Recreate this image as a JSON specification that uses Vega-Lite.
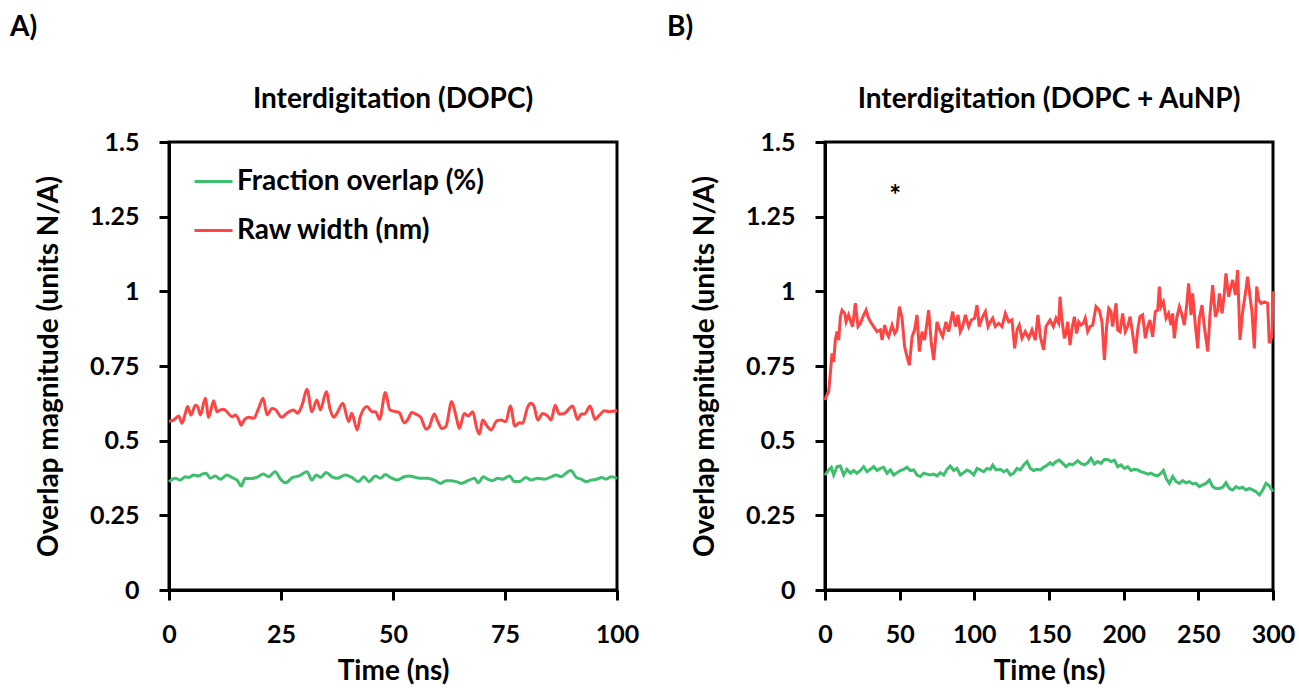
{
  "$schema": "https://vega.github.io/schema/vega-lite/v6.json",
  "background": "white",
  "padding": {"left": 10, "top": 13, "right": 5, "bottom": 5},
  "config": {
    "font": "Lato",
    "view": {"stroke": "black", "strokeWidth": 3},
    "axis": {"grid": false, "domainColor": "black", "domainWidth": 3,
      "labelFont": "Lato", "labelFontSize": 25, "labelFontWeight": "bold", "labelColor": "black", "labelFlush": false,
      "labelExpr": "'' + datum.value",
      "titleFont": "Lato", "titleFontSize": 28, "titleFontWeight": "bold", "titleColor": "black"},
    "axisY": {"titlePadding": 26, "labelPadding": 20},
    "axisX": {"titlePadding": 10, "labelPadding": 22},
    "title": {"font": "Lato", "fontSize": 28, "fontWeight": "bold", "color": "black"}
  },
  "datasets": {
    "a_red": [
      {"t":0,"v":0.565},{"t":1.04,"v":0.569},{"t":2.16,"v":0.583},{"t":2.9,"v":0.558},{"t":3.65,"v":0.592},{"t":4.17,"v":0.614},{"t":4.91,"v":0.586},{"t":5.88,"v":0.619},{"t":6.4,"v":0.614},{"t":7.0,"v":0.586},{"t":8.1,"v":0.642},{"t":8.85,"v":0.578},{"t":9.97,"v":0.634},{"t":10.7,"v":0.597},{"t":11.5,"v":0.603},{"t":12.2,"v":0.605},{"t":12.9,"v":0.597},{"t":14.1,"v":0.58},{"t":14.8,"v":0.586},{"t":15.55,"v":0.571},{"t":16.1,"v":0.552},{"t":16.8,"v":0.569},{"t":17.8,"v":0.578},{"t":18.9,"v":0.575},{"t":20.0,"v":0.608},{"t":21.0,"v":0.642},{"t":21.9,"v":0.586},{"t":23.0,"v":0.608},{"t":23.7,"v":0.605},{"t":25.2,"v":0.578},{"t":26.3,"v":0.592},{"t":27.8,"v":0.603},{"t":28.7,"v":0.592},{"t":29.7,"v":0.619},{"t":30.8,"v":0.672},{"t":31.9,"v":0.597},{"t":33.0,"v":0.636},{"t":33.8,"v":0.603},{"t":35.1,"v":0.664},{"t":36.0,"v":0.603},{"t":36.8,"v":0.578},{"t":37.5,"v":0.592},{"t":38.8,"v":0.625},{"t":40.1,"v":0.564},{"t":40.8,"v":0.592},{"t":42.0,"v":0.536},{"t":42.7,"v":0.58},{"t":44.2,"v":0.614},{"t":45.3,"v":0.597},{"t":46.1,"v":0.597},{"t":47.0,"v":0.571},{"t":48.3,"v":0.661},{"t":49.3,"v":0.603},
      {"t":50.7,"v":0.597},{"t":51.4,"v":0.594},{"t":52.5,"v":0.56},{"t":53.3,"v":0.571},{"t":54.2,"v":0.594},{"t":55.1,"v":0.589},{"t":56.2,"v":0.578},{"t":57.4,"v":0.538},{"t":58.1,"v":0.547},{"t":59.2,"v":0.589},{"t":60.0,"v":0.564},{"t":60.9,"v":0.541},{"t":61.8,"v":0.547},{"t":63.1,"v":0.631},{"t":64.1,"v":0.58},{"t":64.8,"v":0.541},{"t":65.9,"v":0.591},{"t":66.8,"v":0.583},{"t":67.8,"v":0.597},{"t":68.7,"v":0.541},{"t":69.3,"v":0.522},{"t":70.0,"v":0.569},{"t":71.1,"v":0.547},{"t":71.9,"v":0.536},{"t":73.2,"v":0.567},{"t":74.1,"v":0.569},{"t":75.2,"v":0.564},{"t":76.2,"v":0.616},{"t":77.2,"v":0.549},{"t":78.2,"v":0.56},{"t":78.9,"v":0.558},{"t":80.1,"v":0.614},{"t":80.8,"v":0.625},{"t":81.5,"v":0.614},{"t":82.3,"v":0.569},{"t":83.4,"v":0.591},{"t":84.5,"v":0.583},{"t":85.3,"v":0.569},{"t":86.2,"v":0.619},{"t":87.1,"v":0.589},{"t":88.2,"v":0.591},{"t":90.1,"v":0.616},{"t":91.2,"v":0.571},{"t":92.0,"v":0.589},{"t":92.7,"v":0.589},{"t":94.0,"v":0.616},{"t":95.1,"v":0.571},{"t":96.1,"v":0.586},{"t":97.2,"v":0.6},{"t":98.3,"v":0.597},{"t":99.8,"v":0.6},{"t":100,"v":0.6}
    ],
    "a_green": [
      {"t":0,"v":0.362},{"t":1.4,"v":0.374},{"t":2.5,"v":0.368},{"t":3.65,"v":0.379},{"t":4.4,"v":0.377},{"t":5.5,"v":0.385},{"t":6.6,"v":0.382},{"t":7.4,"v":0.388},{"t":8.3,"v":0.391},{"t":9.2,"v":0.374},{"t":10.3,"v":0.382},{"t":11.5,"v":0.371},{"t":12.9,"v":0.385},{"t":14.1,"v":0.376},{"t":15.2,"v":0.368},{"t":16.1,"v":0.348},{"t":17.0,"v":0.374},{"t":18.2,"v":0.373},{"t":19.6,"v":0.377},{"t":21.1,"v":0.388},{"t":22.2,"v":0.379},{"t":23.7,"v":0.396},{"t":24.9,"v":0.371},{"t":26.0,"v":0.359},{"t":27.5,"v":0.376},{"t":29.0,"v":0.382},{"t":30.8,"v":0.396},{"t":31.9,"v":0.368},{"t":32.9,"v":0.385},{"t":33.8,"v":0.377},{"t":35.1,"v":0.393},{"t":36.4,"v":0.379},{"t":37.5,"v":0.374},{"t":39.4,"v":0.385},{"t":40.8,"v":0.377},{"t":42.3,"v":0.363},{"t":43.5,"v":0.379},{"t":44.6,"v":0.363},{"t":46.1,"v":0.382},{"t":47.2,"v":0.374},{"t":48.3,"v":0.387},{"t":49.4,"v":0.377},
      {"t":51.0,"v":0.368},{"t":52.5,"v":0.379},{"t":53.6,"v":0.382},{"t":55.1,"v":0.377},{"t":56.2,"v":0.374},{"t":57.7,"v":0.374},{"t":59.2,"v":0.368},{"t":60.6,"v":0.357},{"t":61.8,"v":0.366},{"t":62.9,"v":0.366},{"t":64.1,"v":0.363},{"t":65.2,"v":0.357},{"t":66.7,"v":0.366},{"t":68.2,"v":0.374},{"t":69.0,"v":0.359},{"t":70.2,"v":0.379},{"t":71.1,"v":0.371},{"t":72.2,"v":0.366},{"t":73.4,"v":0.374},{"t":74.5,"v":0.371},{"t":76.0,"v":0.382},{"t":77.1,"v":0.363},{"t":78.2,"v":0.363},{"t":79.7,"v":0.377},{"t":80.8,"v":0.368},{"t":82.3,"v":0.374},{"t":83.8,"v":0.371},{"t":85.3,"v":0.379},{"t":86.4,"v":0.385},{"t":87.5,"v":0.379},{"t":88.6,"v":0.391},{"t":89.7,"v":0.4},{"t":90.9,"v":0.377},{"t":92.0,"v":0.371},{"t":93.1,"v":0.363},{"t":94.2,"v":0.368},{"t":95.5,"v":0.371},{"t":96.6,"v":0.377},{"t":97.5,"v":0.371},{"t":98.7,"v":0.379},{"t":100,"v":0.374}
    ],
    "b_red": [
      {"t":0,"v":0.636},{"t":1,"v":0.65},{"t":2.46,"v":0.664},{"t":3.57,"v":0.725},{"t":4.69,"v":0.792},{"t":5.8,"v":0.764},{"t":6.92,"v":0.837},{"t":8.03,"v":0.865},{"t":9.15,"v":0.837},{"t":10.3,"v":0.915},{"t":11.4,"v":0.937},{"t":13.2,"v":0.926},{"t":14.1,"v":0.898},{"t":15.8,"v":0.921},{"t":17.6,"v":0.893},{"t":18.5,"v":0.882},{"t":20.3,"v":0.96},{"t":22.1,"v":0.882},{"t":23.7,"v":0.893},{"t":25.9,"v":0.921},{"t":27.5,"v":0.937},{"t":28.8,"v":0.915},{"t":30.4,"v":0.898},{"t":32.6,"v":0.882},{"t":34.8,"v":0.865},{"t":37.1,"v":0.871},{"t":38.2,"v":0.837},{"t":40.0,"v":0.887},{"t":41.5,"v":0.859},{"t":42.6,"v":0.848},{"t":44.9,"v":0.887},{"t":46.7,"v":0.859},{"t":48.2,"v":0.871},{"t":49.8,"v":0.949},{"t":51.6,"v":0.91},{"t":53.3,"v":0.815},{"t":54.9,"v":0.781},{"t":56.5,"v":0.753},{"t":58.3,"v":0.848},{"t":60.0,"v":0.871},{"t":61.6,"v":0.921},{"t":63.2,"v":0.798},{"t":65.0,"v":0.865},{"t":66.7,"v":0.837},{"t":69.4,"v":0.937},{"t":71.2,"v":0.826},{"t":72.8,"v":0.77},{"t":75.0,"v":0.898},{"t":77.2,"v":0.865},{"t":78.8,"v":0.848},{"t":81.0,"v":0.898},{"t":82.8,"v":0.865},{"t":85.5,"v":0.932},{"t":87.3,"v":0.882},{"t":89.1,"v":0.921},{"t":90.6,"v":0.865},{"t":92.2,"v":0.882},{"t":94.0,"v":0.921},{"t":96.2,"v":0.882},{"t":98.0,"v":0.904},{"t":100.2,"v":0.91},{"t":101.8,"v":0.954},{"t":103.3,"v":0.882},{"t":105.1,"v":0.91},{"t":107.4,"v":0.932},{"t":109.2,"v":0.882},{"t":110.7,"v":0.898},{"t":112.3,"v":0.91},{"t":114.1,"v":0.882},{"t":116.3,"v":0.893},{"t":118.5,"v":0.882},{"t":120.8,"v":0.926},{"t":123.0,"v":0.898},{"t":125.2,"v":0.904},{"t":127.0,"v":0.809},{"t":128.6,"v":0.871},{"t":130.1,"v":0.887},{"t":131.9,"v":0.843},{"t":134.1,"v":0.865},{"t":136.4,"v":0.843},{"t":138.6,"v":0.871},{"t":140.8,"v":0.837},{"t":142.6,"v":0.921},{"t":144.2,"v":0.848},{"t":146.4,"v":0.804},{"t":148.0,"v":0.882},{"t":150.7,"v":0.904},
      {"t":152.9,"v":0.882},{"t":154.7,"v":0.91},{"t":156.5,"v":0.893},{"t":157.4,"v":0.982},{"t":158.7,"v":0.904},{"t":160.3,"v":0.843},{"t":161.4,"v":0.859},{"t":162.5,"v":0.898},{"t":164.1,"v":0.82},{"t":165.4,"v":0.876},{"t":167.0,"v":0.915},{"t":168.5,"v":0.859},{"t":169.9,"v":0.898},{"t":171.4,"v":0.887},{"t":173.0,"v":0.893},{"t":174.3,"v":0.91},{"t":175.9,"v":0.865},{"t":177.5,"v":0.882},{"t":179.3,"v":0.887},{"t":181.5,"v":0.949},{"t":183.7,"v":0.937},{"t":185.5,"v":0.898},{"t":187.1,"v":0.77},{"t":188.6,"v":0.882},{"t":190.0,"v":0.943},{"t":191.5,"v":0.932},{"t":192.6,"v":0.882},{"t":194.9,"v":0.96},{"t":196.0,"v":0.871},{"t":197.6,"v":0.865},{"t":199.3,"v":0.926},{"t":201.1,"v":0.865},{"t":202.7,"v":0.882},{"t":204.3,"v":0.915},{"t":206.0,"v":0.859},{"t":207.8,"v":0.792},{"t":209.4,"v":0.871},{"t":210.9,"v":0.915},{"t":212.7,"v":0.921},{"t":214.5,"v":0.843},{"t":216.1,"v":0.882},{"t":217.6,"v":0.904},{"t":219.4,"v":0.848},{"t":221.2,"v":0.932},{"t":222.8,"v":0.937},{"t":223.9,"v":1.016},{"t":225.0,"v":0.949},{"t":226.6,"v":0.965},{"t":228.4,"v":0.91},{"t":230.1,"v":0.926},{"t":231.7,"v":0.887},{"t":232.8,"v":0.926},{"t":233.9,"v":0.843},{"t":235.5,"v":0.91},{"t":237.3,"v":0.949},{"t":239.1,"v":0.921},{"t":240.6,"v":0.887},{"t":242.2,"v":0.954},{"t":243.5,"v":1.027},{"t":245.1,"v":0.921},{"t":246.2,"v":0.993},{"t":248.0,"v":0.887},{"t":249.6,"v":0.809},{"t":250.7,"v":0.91},{"t":252.5,"v":0.954},{"t":254.0,"v":0.882},{"t":256.3,"v":0.798},{"t":257.8,"v":0.921},{"t":259.6,"v":1.021},{"t":261.4,"v":0.915},{"t":263.0,"v":0.937},{"t":264.1,"v":0.993},{"t":265.9,"v":0.926},{"t":267.4,"v":0.993},{"t":268.5,"v":1.06},{"t":270.3,"v":0.982},{"t":271.9,"v":1.016},{"t":273.0,"v":1.038},{"t":274.8,"v":0.988},{"t":276.3,"v":1.071},{"t":277.9,"v":0.837},{"t":279.7,"v":0.932},{"t":281.5,"v":0.993},{"t":283.0,"v":1.049},{"t":284.6,"v":0.982},{"t":285.9,"v":0.932},{"t":287.5,"v":0.809},{"t":289.1,"v":1.016},{"t":290.4,"v":0.971},{"t":292.0,"v":0.96},{"t":294.2,"v":0.965},{"t":296.4,"v":0.96},{"t":297.5,"v":0.826},{"t":299.3,"v":0.848},{"t":300,"v":1.0}
    ],
    "b_green": [
      {"t":0,"v":0.385},{"t":2.46,"v":0.402},{"t":4.24,"v":0.411},{"t":5.8,"v":0.385},{"t":8.03,"v":0.413},{"t":10.3,"v":0.415},{"t":12.5,"v":0.385},{"t":14.7,"v":0.404},{"t":17.0,"v":0.391},{"t":19.2,"v":0.4},{"t":21.4,"v":0.391},{"t":23.7,"v":0.4},{"t":25.9,"v":0.413},{"t":28.1,"v":0.396},{"t":30.4,"v":0.404},{"t":32.6,"v":0.413},{"t":34.8,"v":0.4},{"t":37.1,"v":0.407},{"t":39.3,"v":0.411},{"t":41.5,"v":0.391},{"t":43.8,"v":0.402},{"t":46.0,"v":0.385},{"t":48.2,"v":0.393},{"t":50.4,"v":0.4},{"t":52.7,"v":0.404},{"t":54.9,"v":0.411},{"t":57.1,"v":0.4},{"t":59.4,"v":0.402},{"t":61.6,"v":0.385},{"t":63.8,"v":0.38},{"t":66.1,"v":0.391},{"t":68.3,"v":0.388},{"t":70.5,"v":0.385},{"t":72.8,"v":0.388},{"t":75.0,"v":0.382},{"t":77.2,"v":0.393},{"t":79.5,"v":0.385},{"t":81.7,"v":0.404},{"t":83.9,"v":0.415},{"t":86.2,"v":0.4},{"t":88.4,"v":0.407},{"t":90.6,"v":0.385},{"t":92.9,"v":0.393},{"t":95.1,"v":0.402},{"t":97.3,"v":0.396},{"t":99.6,"v":0.385},{"t":101.8,"v":0.407},{"t":104.0,"v":0.402},{"t":106.2,"v":0.396},{"t":108.5,"v":0.407},{"t":110.7,"v":0.404},{"t":112.3,"v":0.418},{"t":114.5,"v":0.402},{"t":117.4,"v":0.404},{"t":119.6,"v":0.396},{"t":121.9,"v":0.402},{"t":124.1,"v":0.385},{"t":126.3,"v":0.391},{"t":128.6,"v":0.407},{"t":130.8,"v":0.402},{"t":133.0,"v":0.418},{"t":135.3,"v":0.43},{"t":137.5,"v":0.407},{"t":139.7,"v":0.4},{"t":142.0,"v":0.404},{"t":144.2,"v":0.402},{"t":146.4,"v":0.411},{"t":148.7,"v":0.418},{"t":150.7,"v":0.426},
      {"t":152.5,"v":0.419},{"t":154.7,"v":0.43},{"t":156.9,"v":0.435},{"t":159.2,"v":0.424},{"t":161.4,"v":0.413},{"t":163.6,"v":0.422},{"t":165.9,"v":0.419},{"t":169.2,"v":0.433},{"t":171.4,"v":0.424},{"t":173.7,"v":0.419},{"t":175.9,"v":0.426},{"t":178.1,"v":0.441},{"t":180.4,"v":0.422},{"t":182.6,"v":0.43},{"t":184.8,"v":0.424},{"t":187.1,"v":0.437},{"t":189.3,"v":0.437},{"t":191.5,"v":0.43},{"t":193.8,"v":0.435},{"t":196.0,"v":0.413},{"t":198.2,"v":0.419},{"t":200.5,"v":0.407},{"t":202.7,"v":0.413},{"t":204.9,"v":0.4},{"t":207.2,"v":0.404},{"t":209.4,"v":0.402},{"t":211.6,"v":0.396},{"t":213.8,"v":0.393},{"t":216.1,"v":0.388},{"t":218.3,"v":0.391},{"t":220.5,"v":0.385},{"t":222.8,"v":0.382},{"t":225.0,"v":0.391},{"t":226.6,"v":0.4},{"t":228.4,"v":0.374},{"t":230.6,"v":0.357},{"t":232.8,"v":0.38},{"t":235.1,"v":0.363},{"t":237.3,"v":0.357},{"t":239.5,"v":0.366},{"t":241.8,"v":0.359},{"t":244.0,"v":0.363},{"t":246.2,"v":0.355},{"t":248.4,"v":0.357},{"t":250.7,"v":0.346},{"t":252.9,"v":0.352},{"t":255.1,"v":0.357},{"t":257.4,"v":0.368},{"t":259.6,"v":0.346},{"t":261.8,"v":0.34},{"t":264.1,"v":0.34},{"t":266.3,"v":0.344},{"t":268.5,"v":0.359},{"t":270.8,"v":0.34},{"t":273.0,"v":0.335},{"t":275.2,"v":0.346},{"t":277.5,"v":0.34},{"t":279.7,"v":0.344},{"t":281.9,"v":0.335},{"t":284.2,"v":0.34},{"t":286.4,"v":0.335},{"t":288.6,"v":0.329},{"t":290.9,"v":0.318},{"t":293.1,"v":0.335},{"t":295.3,"v":0.357},{"t":297.6,"v":0.348},{"t":300,"v":0.329}
    ],
    "b_note": [{"t":47,"v":1.315,"label":"*"}]
  },
  "resolve": {"scale": {"color": "independent"}, "legend": {"color": "independent"}},
  "spacing": 26,
  "hconcat": [
    {
      "title": {"text": "A)", "anchor": "start", "frame": "bounds", "offset": 43, "dx": -24},
      "resolve": {"scale": {"color": "independent"}, "legend": {"color": "independent"}},
      "vconcat": [
        {
          "width": 448, "height": 448,
          "title": {"text": "Interdigitation (DOPC)", "offset": 16},
          "encoding": {
            "x": {"field": "t", "type": "quantitative", "title": "Time (ns)",
              "scale": {"domain": [0, 100], "nice": false},
              "axis": {"values": [0, 25, 50, 75, 100], "ticks": true, "tickSize": 10, "tickWidth": 3, "tickColor": "#000000", "tickOpacity": 1}},
            "y": {"field": "v", "type": "quantitative", "title": "Overlap magnitude (units N/A)",
              "scale": {"domain": [0, 1.5], "nice": false},
              "axis": {"values": [0, 0.25, 0.5, 0.75, 1, 1.25, 1.5], "ticks": true, "tickSize": 10, "tickWidth": 3, "tickColor": "#000000", "tickOpacity": 1}}
          },
          "layer": [
            {
              "data": {"name": "a_green"},
              "mark": {"type": "line", "strokeWidth": 3, "interpolate": "monotone"},
              "encoding": {"color": {"datum": "Fraction overlap (%)", "type": "nominal",
                "scale": {"domain": ["Fraction overlap (%)", "Raw width (nm)"], "range": ["#3dbf6e", "#ff4444"]},
                "legend": {"orient": "none", "legendX": 24, "legendY": 19, "padding": 0, "title": null,
                  "symbolType": "stroke", "symbolSize": 1444, "symbolStrokeWidth": 3,
                  "labelFont": "Lato", "labelFontSize": 28, "labelFontWeight": "bold", "labelColor": "black",
                  "labelOffset": 3, "rowPadding": 14, "labelLimit": 400}}}
            },
            {
              "data": {"name": "a_red"},
              "mark": {"type": "line", "strokeWidth": 3, "interpolate": "monotone"},
              "encoding": {"color": {"datum": "Raw width (nm)", "type": "nominal"}}
            }
          ]
        }
      ]
    },
    {
      "title": {"text": "B)", "anchor": "start", "frame": "bounds", "offset": 43, "dx": -23},
      "resolve": {"scale": {"color": "independent"}, "legend": {"color": "independent"}},
      "vconcat": [
        {
          "width": 448, "height": 448,
          "title": {"text": "Interdigitation (DOPC + AuNP)", "offset": 16},
          "encoding": {
            "x": {"field": "t", "type": "quantitative", "title": "Time (ns)",
              "scale": {"domain": [0, 300], "nice": false},
              "axis": {"values": [0, 50, 100, 150, 200, 250, 300], "ticks": true, "tickSize": 10, "tickWidth": 3, "tickColor": "#000000", "tickOpacity": 1}},
            "y": {"field": "v", "type": "quantitative", "title": "Overlap magnitude (units N/A)",
              "scale": {"domain": [0, 1.5], "nice": false},
              "axis": {"values": [0, 0.25, 0.5, 0.75, 1, 1.25, 1.5], "ticks": true, "tickSize": 10, "tickWidth": 3, "tickColor": "#000000", "tickOpacity": 1}}
          },
          "layer": [
            {
              "data": {"name": "b_green"},
              "mark": {"type": "line", "strokeWidth": 3},
              "encoding": {"color": {"datum": "Fraction overlap (%)", "type": "nominal",
                "scale": {"domain": ["Fraction overlap (%)", "Raw width (nm)"], "range": ["#3dbf6e", "#ff4444"]},
                "legend": null}}
            },
            {
              "data": {"name": "b_red"},
              "mark": {"type": "line", "strokeWidth": 3},
              "encoding": {"color": {"datum": "Raw width (nm)", "type": "nominal", "legend": null}}
            },
            {
              "data": {"name": "b_note"},
              "mark": {"type": "text", "fontSize": 28, "fontWeight": "bold", "font": "Lato", "color": "black"},
              "encoding": {"text": {"field": "label"}}
            }
          ]
        }
      ]
    }
  ]
}
